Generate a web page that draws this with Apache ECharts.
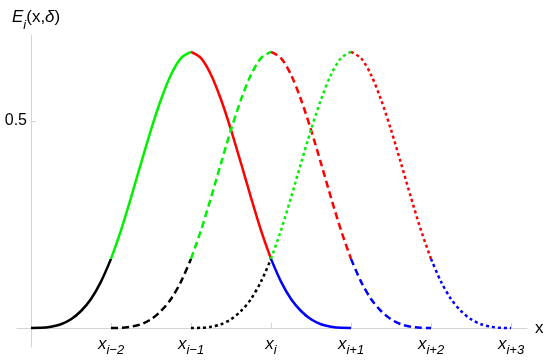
<!DOCTYPE html>
<html>
<head>
<meta charset="utf-8">
<script src="https://cdn.jsdelivr.net/npm/echarts@6/dist/echarts.min.js"></script>
<style>
  html, body { margin: 0; padding: 0; background: #fff; }
  #main { width: 550px; height: 360px; }
</style>
</head>
<body>
<div id="main"></div>
<script>
// knot positions (x_{i-3} = 0 ... x_{i+3} = 6) and their labels
var knots = [0, 1, 2, 3, 4, 5, 6];
var knotLabels = ['', 'i\u22122', 'i\u22121', 'i', 'i+1', 'i+2', 'i+3'];

// one curve sampled every 1/8 of a knot interval, one array per coloured piece
var step = 0.125;
var blackVals = [0, 0.0003, 0.003, 0.009, 0.021, 0.041, 0.070, 0.112, 0.167];
var greenVals = [0.167, 0.236, 0.315, 0.398, 0.479, 0.552, 0.612, 0.652, 0.667];
var redVals   = [0.667, 0.652, 0.612, 0.552, 0.479, 0.398, 0.315, 0.236, 0.167];
var blueVals  = [0.167, 0.112, 0.070, 0.041, 0.021, 0.009, 0.003, 0.0003, 0];

var pieces = [blackVals, greenVals, redVals, blueVals];
var pieceColors = ['#000000', '#00f000', '#ff0000', '#0000ff'];
// the three curves start at x_{i-3}, x_{i-2}, x_{i-1}
var curveStarts = [0, 1, 2];
var curveDash = ['solid', [7, 4], [3, 3]];

var series = [];
curveStarts.forEach(function(start, c) {
    pieces.forEach(function(vals, p) {
        var data = vals.map(function(v, j) {
            return [start + p + j * step, v];
        });
        series.push({
            type: 'line',
            data: data,
            smooth: 0.3,
            showSymbol: false,
            silent: true,
            lineStyle: { color: pieceColors[p], width: 2.5, type: curveDash[c], cap: 'butt' }
        });
    });
});

var chart = echarts.init(document.getElementById('main'));
var axisGray = '#d4d4d4';
var font = 'Liberation Sans';
var option = {
    animation: false,
    title: {
        text: '{e|E}{s|i}{n|(x,}{d|\u03b4}{n|)}',
        left: 7,
        top: 4,
        textStyle: {
            rich: {
                e: { fontFamily: font, fontStyle: 'italic', fontWeight: 'normal', fontSize: 17, color: '#000', lineHeight: 23, verticalAlign: 'top' },
                s: { fontFamily: font, fontStyle: 'italic', fontWeight: 'normal', fontSize: 13, color: '#000', verticalAlign: 'bottom' },
                n: { fontFamily: font, fontWeight: 'normal', fontSize: 17, color: '#000', lineHeight: 23, verticalAlign: 'top' },
                d: { fontFamily: font, fontStyle: 'italic', fontWeight: 'normal', fontSize: 17, color: '#000', lineHeight: 23, verticalAlign: 'top' }
            }
        }
    },
    grid: { left: 17, right: 23, top: 35, bottom: 13, containLabel: false, outerBoundsMode: 'none' },
    xAxis: {
        type: 'value',
        min: -0.175,
        max: 6.2,
        name: 'x',
        nameLocation: 'end',
        nameGap: 8,
        nameTextStyle: { fontFamily: font, fontSize: 17, color: '#000', verticalAlign: 'middle' },
        axisLine: { onZero: true, lineStyle: { color: axisGray, width: 1 } },
        axisTick: { show: true, inside: true, length: 5, customValues: knots.slice(1), lineStyle: { color: axisGray } },
        splitLine: { show: false },
        axisLabel: {
            customValues: knots.slice(1),
            margin: -11,
            formatter: function(v) {
                return '{x|x}{s|' + knotLabels[Math.round(v)] + '}';
            },
            rich: {
                x: { fontFamily: font, fontStyle: 'italic', fontSize: 17, color: '#000', lineHeight: 21, verticalAlign: 'top' },
                s: { fontFamily: font, fontStyle: 'italic', fontSize: 13, color: '#000', verticalAlign: 'bottom' }
            }
        }
    },
    yAxis: {
        type: 'value',
        min: -0.046,
        max: 0.708,
        axisLine: { show: true, onZero: true, lineStyle: { color: axisGray, width: 1 } },
        axisTick: { show: true, inside: true, length: 5, customValues: [0.5], lineStyle: { color: axisGray } },
        splitLine: { show: false },
        axisLabel: {
            customValues: [0.5],
            margin: -10,
            fontFamily: font,
            fontSize: 16,
            color: '#000'
        }
    },
    series: series
};
chart.setOption(option);
</script>
</body>
</html>
